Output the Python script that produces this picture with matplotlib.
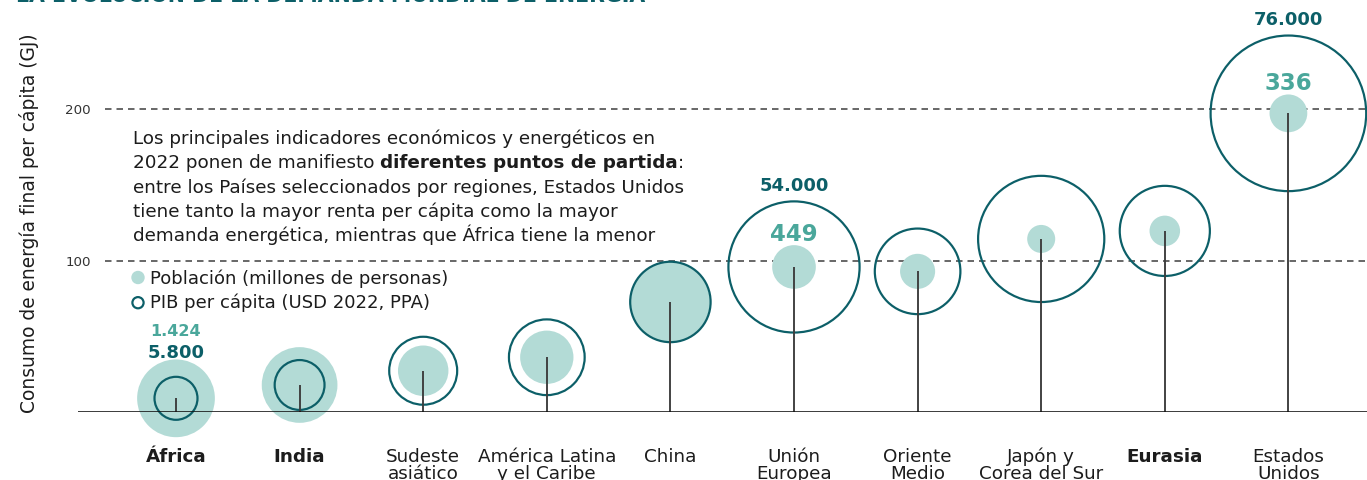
import matplotlib
matplotlib.use('Agg')
import matplotlib.pyplot as plt
from matplotlib.transforms import blended_transform_factory
import numpy as np

# ---------------- data ----------------
categories = ['África', 'India', 'Sudeste\nasiático', 'América Latina\ny el Caribe', 'China',
              'Unión\nEuropea', 'Oriente\nMedio', 'Japón y\nCorea del Sur', 'Eurasia',
              'Estados\nUnidos']
bold_categories = ['África', 'India', 'Eurasia']
energy_gj = [9.3, 18.1, 27.5, 36.4, 72.9, 96.0, 93.1, 114.5, 119.8, 197.4]
population_m = [1424, 1350, 600, 670, 1480, 449, 290, 185, 220, 336]
gdp_pc_usd = [5800, 7800, 14500, 18000, 20300, 54000, 23000, 50000, 25500, 76000]
labelled_regions = ['África', 'Unión\nEuropea', 'Estados\nUnidos']
y_ticks = [100, 200]
y_tick_labels = ['100', '200']

title = 'LA EVOLUCIÓN DE LA DEMANDA MUNDIAL DE ENERGÍA'
ylabel = 'Consumo de energía final per cápita (GJ)'
legend_labels = ['Población (millones de personas)', 'PIB per cápita (USD 2022, PPA)']
note_lines = [
    [('Los principales indicadores económicos y energéticos en', 'normal')],
    [('2022 ponen de manifiesto ', 'normal'), ('diferentes puntos de partida', 'bold'), (':', 'normal')],
    [('entre los Países seleccionados por regiones, Estados Unidos', 'normal')],
    [('tiene tanto la mayor renta per cápita como la mayor', 'normal')],
    [('demanda energética, mientras que África tiene la menor', 'normal')],
]

def fmt_es(v):
    return f'{v:,.0f}'.replace(',', '.')

# ---------------- style ----------------
FILL = '#b3dbd6'
RING = '#0c5f68'
POPTXT = '#4aa79b'
STEM = '#3e3e3e'
TXT = '#1c1c1c'
plt.rcParams['font.family'] = ['DejaVu Sans']
plt.rcParams['lines.scale_dashes'] = False

W, H, DPI = 1367, 480, 100
fig = plt.figure(figsize=(W / DPI, H / DPI), dpi=DPI)
PX = 72.0 / DPI  # points per pixel

base_px = 412.4
top_px = 20.0
left_px = 78.0
px_per_unit = 1.515
ax = fig.add_axes([left_px / W, (H - base_px) / H, (W - left_px) / W, (base_px - top_px) / H])
ax.set_ylim(0, (base_px - top_px) / px_per_unit)
x = np.arange(len(categories))
first_px, step_px = 176.0, 123.6
ax.set_xlim(-(first_px - left_px) / step_px, (W - first_px) / step_px)
ax.axis('off')

# sizes: radius in pixels
r_fill = 1.03 * np.sqrt(np.array(population_m, float))
r_ring = 0.2822 * np.sqrt(np.array(gdp_pc_usd, float))
ring_lw_px = 2.2

ax.scatter(x, energy_gj, s=(2 * r_fill * PX) ** 2, color=FILL, edgecolors='none',
           zorder=2, clip_on=False)
ax.scatter(x, energy_gj, s=(2 * r_ring * PX) ** 2, facecolors='none', edgecolors=RING,
           linewidths=ring_lw_px * PX, zorder=3, clip_on=False)
ax.vlines(x, 0, energy_gj, color=STEM, lw=1.9 * PX, zorder=4)
ax.axhline(0, color='#111111', lw=1.6 * PX, zorder=5)

# dashed reference lines + tick labels
bt = blended_transform_factory(ax.transAxes, ax.transData)
dash_start = (105 - left_px) / (W - left_px)
for yv, lab in zip(y_ticks, y_tick_labels):
    ax.plot([dash_start, 1], [yv, yv], transform=bt, color='#3a3a3a', lw=1.5 * PX,
            dashes=(6.5 * PX, 5.0 * PX), zorder=1)
    ax.text((91 - left_px) / (W - left_px), yv, lab, transform=bt, ha='right',
            va='center_baseline', fontsize=9.6, color='#333333')

# value labels
for i, cat in enumerate(categories):
    if cat not in labelled_regions:
        continue
    gdp_txt = fmt_es(gdp_pc_usd[i])
    pop_txt = fmt_es(population_m[i])
    ring_top = r_ring[i] + ring_lw_px / 2
    if r_fill[i] > ring_top:
        gdp_off = r_fill[i] + 1
        ax.annotate(gdp_txt, (x[i], energy_gj[i]), xytext=(0, gdp_off * PX),
                    textcoords='offset points', ha='center', va='baseline',
                    fontsize=13, fontweight='bold', color=RING, zorder=6)
        ax.annotate(pop_txt, (x[i], energy_gj[i]), xytext=(0, (gdp_off + 22) * PX),
                    textcoords='offset points', ha='center', va='baseline',
                    fontsize=11.5, fontweight='bold', color=POPTXT, zorder=6)
    else:
        ax.annotate(gdp_txt, (x[i], energy_gj[i]), xytext=(0, (ring_top + 9) * PX),
                    textcoords='offset points', ha='center', va='baseline',
                    fontsize=13, fontweight='bold', color=RING, zorder=6)
        ax.annotate(pop_txt, (x[i], energy_gj[i]), xytext=(0, (r_fill[i] + 4) * PX),
                    textcoords='offset points', ha='center', va='baseline',
                    fontsize=16.5, fontweight='bold', color=POPTXT, zorder=6)

# category labels
ct = blended_transform_factory(ax.transData, fig.transFigure)
line_px = [461.7, 479.3]
for i, cat in enumerate(categories):
    w = 'bold' if cat in bold_categories else 'normal'
    for j, line in enumerate(cat.split('\n')):
        ax.text(x[i], (H - line_px[j]) / H, line, transform=ct, ha='center', va='baseline',
                fontsize=13.2, fontweight=w, color=TXT, clip_on=False)

# y label
fig.text(29 / W, (H - 223) / H, ylabel, rotation=90, ha='center', va='center',
         fontsize=13.4, color=TXT)

# title (cut off at top as in reference)
fig.text(16 / W, (H - 1.5) / H, title, ha='left', va='baseline', fontsize=14.8,
         fontweight='bold', color=RING)

# legend
ax.scatter([138 / W], [(H - 277.5) / H], s=(13.4 * PX) ** 2, color=FILL, edgecolors='none',
           transform=fig.transFigure, clip_on=False, zorder=6)
ax.scatter([138 / W], [(H - 302.7) / H], s=(11.2 * PX) ** 2, facecolors='none', edgecolors=RING,
           linewidths=2.2 * PX, transform=fig.transFigure, clip_on=False, zorder=6)
fig.text(150 / W, (H - 284) / H, legend_labels[0], ha='left', va='baseline', fontsize=13,
         color=TXT)
fig.text(150 / W, (H - 308.3) / H, legend_labels[1], ha='left', va='baseline', fontsize=13,
         color=TXT)

# note paragraph
fig.canvas.draw()
renderer = fig.canvas.get_renderer()
note_base = 144.0
note_step = 24.3
for k, parts in enumerate(note_lines):
    xpx = 133.0
    ypx = note_base + k * note_step
    for txt, wgt in parts:
        t = fig.text(xpx / W, (H - ypx) / H, txt, ha='left', va='baseline', fontsize=13.2,
                     fontweight=wgt, color=TXT)
        bb = t.get_window_extent(renderer=renderer)
        xpx += bb.width

fig.savefig('out.png', dpi=DPI)
